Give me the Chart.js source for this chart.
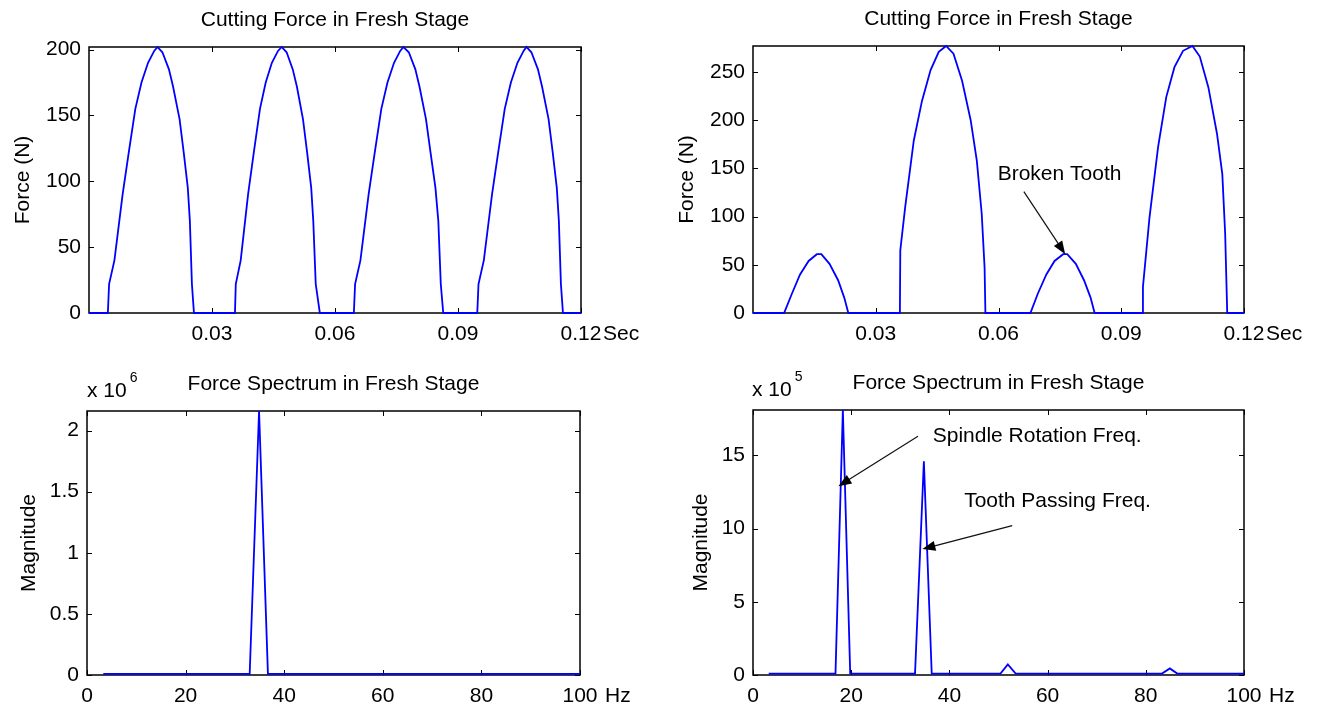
<!DOCTYPE html>
<html>
<head>
<meta charset="utf-8">
<script src="https://cdn.jsdelivr.net/npm/chart.js@4.4.1/dist/chart.umd.min.js"></script>
<style>
html,body{margin:0;padding:0;background:#fff;}
#wrap{position:relative;width:1322px;height:707px;overflow:hidden;background:#fff;}
.pane{position:absolute;}
canvas{display:block;}
</style>
</head>
<body>
<div id="wrap">
  <div class="pane" style="left:0;top:0;"><canvas id="c1" width="661" height="354"></canvas></div>
  <div class="pane" style="left:661px;top:0;"><canvas id="c2" width="661" height="354"></canvas></div>
  <div class="pane" style="left:0;top:354px;"><canvas id="c3" width="661" height="353"></canvas></div>
  <div class="pane" style="left:661px;top:354px;"><canvas id="c4" width="661" height="353"></canvas></div>
</div>
<script>
// ---------- DATA ----------
// Top-left: cutting force, fresh tool (time in s, force in N)
const freshTime = [0,
  0.0046,0.0049,0.0062,0.0082,0.0097,0.0113,0.0128,0.0144,0.0159,0.0167,0.0179,0.0195,0.0205,0.0221,0.0231,0.0241,0.0246,0.0251,0.0256,
  0.0356,0.0358,0.0370,0.0388,0.0402,0.0417,0.0431,0.0446,0.0461,0.0470,0.0482,0.0497,0.0507,0.0522,0.0532,0.0542,0.0547,0.0553,0.0563,
  0.0646,0.0649,0.0662,0.0682,0.0697,0.0713,0.0728,0.0744,0.0759,0.0767,0.0780,0.0796,0.0806,0.0822,0.0833,0.0845,0.0852,0.0858,0.0864,
  0.0947,0.0950,0.0963,0.0983,0.0998,0.1014,0.1029,0.1045,0.1060,0.1067,0.1079,0.1095,0.1105,0.1121,0.1131,0.1141,0.1146,0.1151,0.1156,
  0.12];
const freshForce = [0,
  0,22,40,90,122,155,175,190,199,202,198,185,172,147,122,95,70,22,0,
  0,22,40,90,122,155,175,190,199,202,198,185,172,147,122,95,70,22,0,
  0,22,40,90,122,155,175,190,199,202,198,185,172,147,122,95,70,22,0,
  0,22,40,90,122,155,175,190,199,202,198,185,172,147,122,95,70,22,0,
  0];

// Top-right: cutting force with a broken tooth
const brokenTime = [0,
  0.0076,0.0095,0.0115,0.0136,0.0156,0.0167,0.0187,0.0208,0.0223,0.0233,
  0.0359,0.0360,0.0372,0.0393,0.0413,0.0434,0.0454,0.0472,0.0490,0.0511,0.0532,0.0547,0.0559,0.0566,0.0568,
  0.0678,0.0696,0.0717,0.0737,0.0758,0.0768,0.0789,0.0809,0.0825,0.0835,
  0.0951,0.0953,0.0969,0.0990,0.1010,0.1030,0.1051,0.1074,0.1092,0.1113,0.1134,0.1147,0.1154,0.1159,
  0.12];
const brokenForce = [0,
  0,20,40,54,61,61,51,34,16,0,
  0,65,110,179,220,252,271,277,269,241,200,158,103,47,0,
  0,20,40,54,61,61,51,34,16,0,
  0,27,99,172,224,255,272,277,266,234,186,144,82,0,
  0];

// Bottom-left: force spectrum, fresh tool (Hz, magnitude)
const freshFreq = [3.3, 33.0, 34.9, 36.7, 100];
const freshMag  = [1.0e4, 1.0e4, 2.16e6, 1.0e4, 1.0e4];

// Bottom-right: force spectrum, broken tooth (Hz, magnitude)
const brokenFreq = [3.2, 16.8, 18.3, 19.8, 33.0, 34.8, 36.4, 50.4, 51.9, 53.5, 83.3, 84.9, 86.4, 100];
const brokenMag  = [1.0e4, 1.0e4, 1.81e6, 1.0e4, 1.0e4, 1.46e6, 1.0e4, 1.0e4, 7.2e4, 1.0e4, 1.0e4, 4.5e4, 1.0e4, 1.0e4];

// Tick values and labels
const timeTicks      = [0.03, 0.06, 0.09, 0.12];
const timeTickLabels = ['0.03', '0.06', '0.09', '0.12'];
const freshForceTicks  = [0, 50, 100, 150, 200];
const freshForceLabels = ['0', '50', '100', '150', '200'];
const brokenForceTicks  = [0, 50, 100, 150, 200, 250];
const brokenForceLabels = ['0', '50', '100', '150', '200', '250'];
const freqTicks      = [0, 20, 40, 60, 80, 100];
const freqTickLabels = ['0', '20', '40', '60', '80', '100'];
const freshMagTicks  = [0, 0.5e6, 1e6, 1.5e6, 2e6];
const freshMagLabels = ['0', '0.5', '1', '1.5', '2'];
const brokenMagTicks  = [0, 5e5, 10e5, 15e5];
const brokenMagLabels = ['0', '5', '10', '15'];

// Text
const titleForce = 'Cutting Force in Fresh Stage';
const titleSpectrum = 'Force Spectrum in Fresh Stage';
const labelForce = 'Force (N)';
const labelMag = 'Magnitude';

// Annotations (data coordinates): text position and arrow tail -> tip
const brokenToothNote = {text: 'Broken Tooth', tx: 0.0598, ty: 144, ax: 0.0662, ay: 126, bx: 0.0763, by: 61};
const spindleNote = {text: 'Spindle Rotation Freq.', tx: 36.6, ty: 16.3e5, ax: 33.6, ay: 16.3e5, bx: 17.4, by: 12.9e5};
const toothNote = {text: 'Tooth Passing Freq.', tx: 43.0, ty: 11.9e5, ax: 52.8, ay: 10.2e5, bx: 34.5, by: 8.6e5};

// ---------- RENDERING ----------
const FONT = '"Liberation Sans", Arial, Helvetica, sans-serif';
Chart.defaults.font.family = FONT;
Chart.defaults.font.size = 21;
Chart.defaults.color = '#000';

function drawArrow(ctx, x1, y1, x2, y2) {
  const ang = Math.atan2(y2 - y1, x2 - x1);
  const L = 13, W = 5;
  ctx.save();
  ctx.strokeStyle = '#111';
  ctx.lineWidth = 1.2;
  ctx.beginPath();
  ctx.moveTo(x1, y1);
  ctx.lineTo(x2 - Math.cos(ang) * L * 0.6, y2 - Math.sin(ang) * L * 0.6);
  ctx.stroke();
  ctx.fillStyle = '#000';
  ctx.beginPath();
  ctx.moveTo(x2, y2);
  ctx.lineTo(x2 - Math.cos(ang) * L - Math.sin(ang) * W, y2 - Math.sin(ang) * L + Math.cos(ang) * W);
  ctx.lineTo(x2 - Math.cos(ang) * L + Math.sin(ang) * W, y2 - Math.sin(ang) * L - Math.cos(ang) * W);
  ctx.closePath();
  ctx.fill();
  ctx.restore();
}

function decor(o) {
  return {
    id: 'decor',
    beforeDatasetsDraw(chart) {
      const {ctx, chartArea: a, scales: {x, y}} = chart;
      ctx.save();
      ctx.strokeStyle = '#000';
      ctx.lineWidth = 1.5;
      ctx.strokeRect(a.left, a.top, a.right - a.left, a.bottom - a.top);
      ctx.lineWidth = 1;
      ctx.beginPath();
      o.xTicks.forEach(v => {
        const px = Math.round(x.getPixelForValue(v)) + 0.5;
        ctx.moveTo(px, a.bottom); ctx.lineTo(px, a.bottom - 5);
        ctx.moveTo(px, a.top); ctx.lineTo(px, a.top + 5);
      });
      o.yTicks.forEach(v => {
        const py = Math.round(y.getPixelForValue(v)) + 0.5;
        ctx.moveTo(a.left, py); ctx.lineTo(a.left + 5, py);
        ctx.moveTo(a.right, py); ctx.lineTo(a.right - 5, py);
      });
      ctx.stroke();

      // title
      ctx.fillStyle = '#000';
      ctx.font = '21px ' + FONT;
      ctx.textAlign = 'center';
      ctx.textBaseline = 'middle';
      ctx.fillText(o.title, (a.left + a.right) / 2, a.top - 27);

      // y label
      ctx.save();
      ctx.translate(a.left - o.yLabelOff, (a.top + a.bottom) / 2);
      ctx.rotate(-Math.PI / 2);
      ctx.fillText(o.yLabel, 0, 0);
      ctx.restore();

      // unit label after the last x tick
      ctx.textAlign = 'left';
      ctx.fillText(o.unit, a.right + o.unitOff, a.bottom + 9 + 12.6);

      // exponent label
      if (o.expo) {
        ctx.textAlign = 'left';
        ctx.fillText('x 10', a.left + o.expoOff, a.top - 20);
        const w = ctx.measureText('x 10').width;
        ctx.font = '14px ' + FONT;
        ctx.fillText(o.expo, a.left + o.expoOff + w + 3, a.top - 33);
      }
      ctx.restore();
    },
    afterDatasetsDraw(chart) {
      const {ctx, scales: {x, y}} = chart;
      (o.notes || []).forEach(n => {
        ctx.save();
        ctx.fillStyle = '#000';
        ctx.font = '21px ' + FONT;
        ctx.textAlign = 'left';
        ctx.textBaseline = 'middle';
        ctx.fillText(n.text, x.getPixelForValue(n.tx), y.getPixelForValue(n.ty));
        ctx.restore();
        drawArrow(ctx, x.getPixelForValue(n.ax), y.getPixelForValue(n.ay),
                       x.getPixelForValue(n.bx), y.getPixelForValue(n.by));
      });
    }
  };
}

function buildChart(id, o) {
  const pts = o.xs.map((v, i) => ({x: v, y: o.ys[i]}));
  return new Chart(document.getElementById(id), {
    type: 'line',
    data: {datasets: [{data: pts, borderColor: '#0000ff', borderWidth: 1.8, pointRadius: 0,
                       tension: 0, fill: false, clip: false}]},
    options: {
      responsive: false, animation: false, devicePixelRatio: 1,
      layout: {padding: {left: 0, top: o.area.top, right: o.w - o.area.right, bottom: o.h - o.area.bottom - o.xH}},
      plugins: {legend: {display: false}, tooltip: {enabled: false}, title: {display: false}},
      scales: {
        x: {
          type: 'linear', min: o.xMin, max: o.xMax,
          grid: {display: false, drawTicks: false}, border: {display: false},
          afterBuildTicks: s => { s.ticks = o.xTicks.map(v => ({value: v})); },
          afterFit: s => { s.height = o.xH; },
          ticks: {padding: 9, maxRotation: 0, minRotation: 0, autoSkip: false,
                  font: {size: 21}, callback: (v, i) => o.xLabels[i]}
        },
        y: {
          type: 'linear', min: o.yMin, max: o.yMax,
          grid: {display: false, drawTicks: false}, border: {display: false},
          afterBuildTicks: s => { s.ticks = o.yTicks.map(v => ({value: v})); },
          afterFit: s => { s.width = o.area.left; },
          ticks: {padding: 8, autoSkip: false, font: {size: 21}, callback: (v, i) => o.yLabels[i]}
        }
      }
    },
    plugins: [decor(o)]
  });
}

buildChart('c1', {
  w: 661, h: 354, area: {left: 89, top: 47, right: 581, bottom: 313}, xH: 41,
  xs: freshTime, ys: freshForce, xMin: 0, xMax: 0.12, yMin: 0, yMax: 202,
  xTicks: timeTicks, xLabels: timeTickLabels, yTicks: freshForceTicks, yLabels: freshForceLabels,
  title: titleForce, yLabel: labelForce, yLabelOff: 66, unit: 'Sec', unitOff: 22
});
buildChart('c2', {
  w: 661, h: 354, area: {left: 92, top: 46, right: 583, bottom: 313}, xH: 41,
  xs: brokenTime, ys: brokenForce, xMin: 0, xMax: 0.12, yMin: 0, yMax: 277,
  xTicks: timeTicks, xLabels: timeTickLabels, yTicks: brokenForceTicks, yLabels: brokenForceLabels,
  title: titleForce, yLabel: labelForce, yLabelOff: 66, unit: 'Sec', unitOff: 22,
  notes: [brokenToothNote]
});
buildChart('c3', {
  w: 661, h: 353, area: {left: 87, top: 57, right: 580, bottom: 321}, xH: 32,
  xs: freshFreq, ys: freshMag, xMin: 0, xMax: 100, yMin: 0, yMax: 2.16e6,
  xTicks: freqTicks, xLabels: freqTickLabels, yTicks: freshMagTicks, yLabels: freshMagLabels,
  title: titleSpectrum, yLabel: labelMag, yLabelOff: 58, unit: 'Hz', unitOff: 25,
  expo: '6', expoOff: 0
});
buildChart('c4', {
  w: 661, h: 353, area: {left: 92, top: 56, right: 583, bottom: 321}, xH: 32,
  xs: brokenFreq, ys: brokenMag, xMin: 0, xMax: 100, yMin: 0, yMax: 1.81e6,
  xTicks: freqTicks, xLabels: freqTickLabels, yTicks: brokenMagTicks, yLabels: brokenMagLabels,
  title: titleSpectrum, yLabel: labelMag, yLabelOff: 52, unit: 'Hz', unitOff: 25,
  expo: '5', expoOff: -1, notes: [spindleNote, toothNote]
});
</script>
</body>
</html>
